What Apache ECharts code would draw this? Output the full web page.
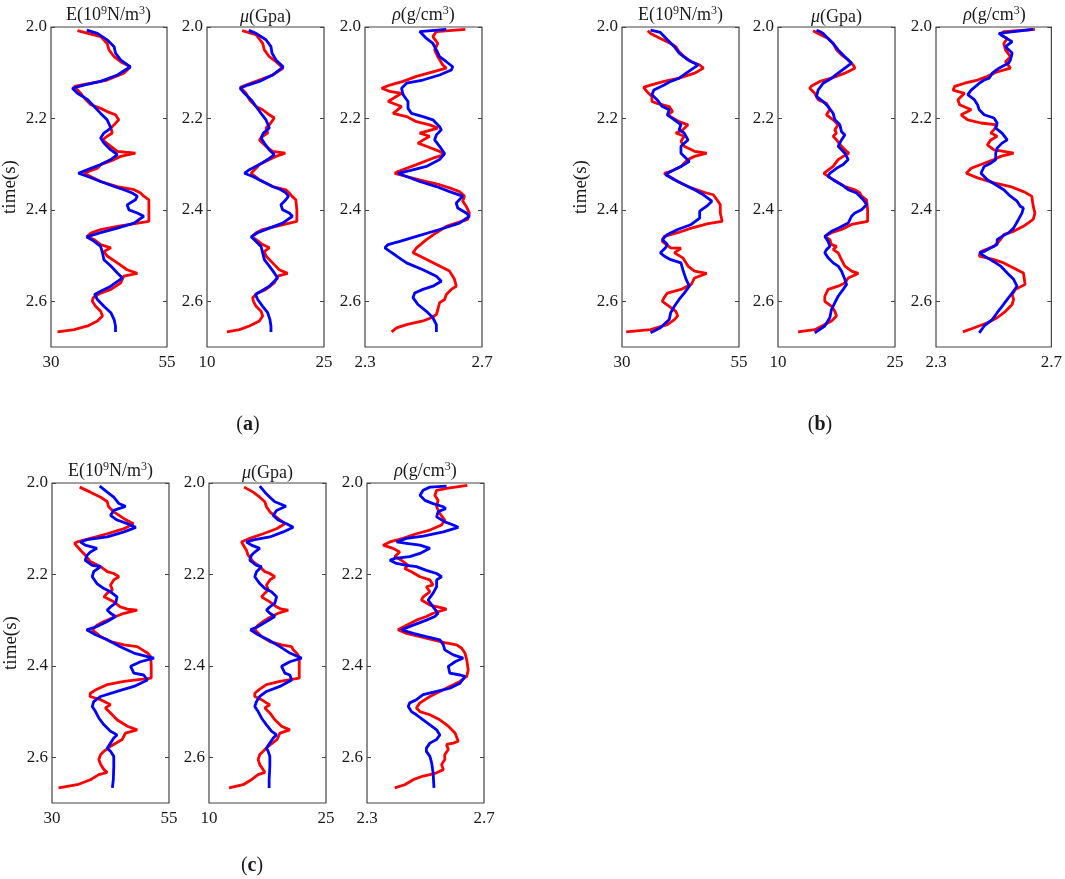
<!DOCTYPE html>
<html>
<head>
<meta charset="utf-8">
<title>E / mu / rho time curves</title>
<script src="https://cdn.jsdelivr.net/npm/echarts@6/dist/echarts.min.js"></script>
<style>
html, body { margin: 0; padding: 0; background: #fff; }
#chart { width: 1065px; height: 879px; }
</style>
</head>
<body>
<div id="chart"></div>
<script>
// 每条曲线: [time(s), value]
var aERed = [[2.008,35.7],[2.021,40.7],[2.036,42.1],[2.050,42.5],[2.065,43.6],[2.076,45.0],[2.087,47.1],[2.090,47.5],[2.101,45.7],[2.116,42.1],[2.123,38.6],[2.130,35.0],[2.132,34.6],[2.145,36.4],[2.159,37.5],[2.170,38.6],[2.178,40.7],[2.185,42.1],[2.192,43.9],[2.203,44.6],[2.214,43.6],[2.221,42.9],[2.232,43.2],[2.239,42.1],[2.247,41.1],[2.261,42.9],[2.272,44.3],[2.274,46.1],[2.276,48.2],[2.283,45.0],[2.290,43.6],[2.301,40.7],[2.309,40.0],[2.320,37.1],[2.338,40.7],[2.349,44.3],[2.356,47.9],[2.363,49.3],[2.370,50.0],[2.378,51.1],[2.400,51.1],[2.425,51.1],[2.436,44.3],[2.443,40.7],[2.451,38.6],[2.459,37.7],[2.465,39.3],[2.476,40.7],[2.483,42.9],[2.491,41.4],[2.501,42.1],[2.516,44.3],[2.531,46.4],[2.539,48.6],[2.545,45.7],[2.560,45.0],[2.574,42.9],[2.582,40.7],[2.592,39.1],[2.600,38.9],[2.611,39.6],[2.622,40.7],[2.632,41.1],[2.643,40.0],[2.654,37.9],[2.662,35.0],[2.667,31.4]];
var aEBlue = [[2.007,37.7],[2.014,40.0],[2.028,42.1],[2.043,43.6],[2.057,43.9],[2.072,45.0],[2.087,47.1],[2.105,44.3],[2.119,40.7],[2.127,37.1],[2.134,34.6],[2.145,35.7],[2.159,37.9],[2.174,39.3],[2.189,40.7],[2.203,42.1],[2.221,42.9],[2.232,41.4],[2.243,40.7],[2.254,41.4],[2.269,42.9],[2.279,44.3],[2.290,42.9],[2.301,40.7],[2.312,37.9],[2.320,35.9],[2.327,37.9],[2.338,40.7],[2.349,43.6],[2.356,45.7],[2.363,47.5],[2.370,48.6],[2.378,48.2],[2.389,46.4],[2.400,46.8],[2.407,48.6],[2.414,50.0],[2.429,47.9],[2.440,44.3],[2.450,40.7],[2.459,37.7],[2.469,39.3],[2.480,40.7],[2.494,41.1],[2.509,41.4],[2.523,42.9],[2.538,44.3],[2.549,45.4],[2.567,42.9],[2.578,40.7],[2.585,39.4],[2.596,40.0],[2.611,41.4],[2.625,42.9],[2.640,43.6],[2.654,43.9],[2.667,43.9]];
var aMuRed = [[2.008,14.50],[2.017,16.29],[2.036,17.14],[2.050,17.35],[2.065,17.99],[2.076,18.84],[2.090,19.77],[2.105,18.41],[2.116,16.71],[2.127,15.01],[2.132,14.25],[2.145,15.01],[2.159,15.44],[2.174,16.29],[2.181,17.14],[2.192,17.99],[2.199,18.63],[2.214,17.99],[2.221,17.56],[2.232,17.78],[2.239,17.14],[2.247,16.71],[2.261,17.56],[2.272,18.41],[2.276,20.03],[2.283,18.84],[2.290,17.99],[2.301,16.71],[2.309,16.29],[2.320,15.65],[2.334,16.71],[2.349,18.41],[2.356,20.11],[2.363,20.54],[2.370,20.88],[2.378,21.39],[2.400,21.52],[2.425,21.52],[2.436,18.84],[2.443,17.14],[2.450,16.29],[2.459,15.78],[2.465,16.29],[2.476,17.14],[2.483,17.99],[2.491,17.35],[2.501,17.56],[2.516,18.41],[2.531,19.26],[2.539,20.33],[2.545,19.05],[2.560,18.63],[2.574,17.56],[2.582,16.50],[2.592,15.86],[2.600,15.95],[2.611,16.29],[2.622,16.93],[2.632,17.14],[2.643,16.71],[2.654,15.44],[2.662,14.16],[2.667,12.55]];
var aMuBlue = [[2.007,15.35],[2.014,16.29],[2.028,17.56],[2.043,18.20],[2.057,18.33],[2.072,18.84],[2.087,19.77],[2.105,18.41],[2.119,16.71],[2.127,15.23],[2.134,14.25],[2.145,14.80],[2.159,15.65],[2.174,16.29],[2.189,16.93],[2.203,17.56],[2.221,17.99],[2.232,17.22],[2.243,16.93],[2.254,17.35],[2.269,17.99],[2.279,18.63],[2.290,17.78],[2.301,16.71],[2.312,15.44],[2.320,14.80],[2.327,15.86],[2.338,17.14],[2.349,18.41],[2.356,19.48],[2.363,20.11],[2.370,20.45],[2.378,20.11],[2.389,19.48],[2.400,19.69],[2.407,20.54],[2.414,20.96],[2.429,19.69],[2.440,17.99],[2.450,16.50],[2.459,15.65],[2.469,16.29],[2.480,16.93],[2.494,17.14],[2.509,17.35],[2.523,17.99],[2.538,18.63],[2.549,19.05],[2.567,17.99],[2.578,16.93],[2.585,16.20],[2.596,16.50],[2.611,17.14],[2.625,17.78],[2.640,18.07],[2.654,18.20],[2.667,18.20]];
var aRhoRed = [[2.005,2.643],[2.010,2.544],[2.021,2.532],[2.036,2.549],[2.050,2.538],[2.065,2.549],[2.083,2.566],[2.090,2.578],[2.098,2.532],[2.108,2.476],[2.119,2.430],[2.127,2.385],[2.134,2.357],[2.141,2.385],[2.145,2.425],[2.163,2.379],[2.174,2.425],[2.189,2.396],[2.196,2.442],[2.207,2.476],[2.214,2.521],[2.221,2.549],[2.225,2.555],[2.232,2.487],[2.239,2.521],[2.254,2.481],[2.261,2.510],[2.272,2.555],[2.279,2.572],[2.287,2.532],[2.301,2.476],[2.316,2.413],[2.320,2.402],[2.327,2.442],[2.338,2.510],[2.345,2.555],[2.352,2.589],[2.360,2.623],[2.370,2.640],[2.381,2.634],[2.392,2.646],[2.407,2.657],[2.421,2.651],[2.429,2.612],[2.436,2.578],[2.450,2.544],[2.465,2.510],[2.483,2.476],[2.494,2.464],[2.501,2.487],[2.512,2.521],[2.523,2.555],[2.534,2.589],[2.552,2.606],[2.567,2.612],[2.574,2.595],[2.585,2.578],[2.596,2.572],[2.603,2.555],[2.618,2.549],[2.629,2.544],[2.636,2.527],[2.643,2.498],[2.651,2.442],[2.658,2.408],[2.667,2.391]];
var aRhoBlue = [[2.005,2.578],[2.010,2.487],[2.025,2.510],[2.036,2.532],[2.050,2.544],[2.065,2.555],[2.076,2.578],[2.087,2.600],[2.094,2.595],[2.105,2.555],[2.116,2.498],[2.123,2.442],[2.134,2.425],[2.148,2.430],[2.163,2.447],[2.178,2.447],[2.189,2.459],[2.196,2.498],[2.203,2.532],[2.218,2.555],[2.225,2.561],[2.236,2.544],[2.247,2.538],[2.261,2.555],[2.277,2.572],[2.290,2.555],[2.305,2.510],[2.314,2.453],[2.320,2.413],[2.327,2.442],[2.338,2.487],[2.349,2.544],[2.360,2.589],[2.370,2.634],[2.385,2.612],[2.396,2.617],[2.407,2.646],[2.414,2.657],[2.429,2.623],[2.443,2.555],[2.458,2.476],[2.469,2.419],[2.476,2.379],[2.483,2.368],[2.491,2.385],[2.501,2.408],[2.516,2.442],[2.531,2.498],[2.545,2.544],[2.556,2.561],[2.567,2.532],[2.574,2.498],[2.582,2.470],[2.592,2.464],[2.607,2.481],[2.622,2.510],[2.636,2.532],[2.651,2.544],[2.667,2.544]];

var bERed = [[2.008,35.5],[2.014,36.1],[2.025,38.2],[2.036,40.4],[2.043,41.5],[2.054,42.2],[2.065,43.3],[2.076,44.8],[2.083,46.6],[2.090,47.4],[2.101,45.5],[2.112,42.2],[2.119,39.0],[2.127,36.1],[2.132,34.6],[2.141,35.3],[2.152,36.4],[2.163,36.4],[2.167,37.5],[2.174,40.1],[2.185,40.8],[2.192,39.7],[2.207,42.2],[2.214,44.1],[2.225,43.0],[2.232,41.5],[2.239,43.3],[2.250,42.6],[2.261,43.3],[2.272,45.5],[2.276,48.1],[2.283,45.5],[2.290,44.1],[2.305,42.6],[2.316,40.4],[2.320,39.0],[2.338,41.9],[2.352,44.8],[2.362,47.7],[2.367,49.5],[2.378,50.3],[2.389,51.0],[2.407,51.0],[2.425,51.4],[2.430,48.4],[2.440,44.8],[2.450,41.9],[2.458,39.0],[2.469,38.6],[2.483,40.4],[2.484,42.6],[2.494,41.2],[2.505,43.0],[2.523,44.1],[2.534,45.5],[2.539,48.1],[2.549,45.5],[2.563,44.8],[2.574,42.6],[2.582,39.7],[2.592,39.0],[2.600,38.6],[2.611,40.1],[2.622,41.5],[2.632,41.9],[2.640,41.2],[2.651,39.7],[2.662,36.1],[2.667,30.9]];
var bEBlue = [[2.007,36.1],[2.012,38.2],[2.015,37.9],[2.028,39.7],[2.043,41.2],[2.057,42.2],[2.072,44.1],[2.083,46.3],[2.098,44.1],[2.112,42.2],[2.119,40.4],[2.127,39.0],[2.138,36.8],[2.148,36.4],[2.159,37.5],[2.174,38.6],[2.181,40.1],[2.192,39.7],[2.203,41.2],[2.214,42.6],[2.225,42.2],[2.232,43.3],[2.247,44.1],[2.261,42.6],[2.276,42.6],[2.294,44.4],[2.305,42.6],[2.316,40.4],[2.323,39.3],[2.334,41.2],[2.345,43.3],[2.356,45.5],[2.367,47.4],[2.381,49.2],[2.392,48.1],[2.403,46.6],[2.418,46.6],[2.432,44.8],[2.443,41.9],[2.454,39.7],[2.465,38.6],[2.476,39.7],[2.483,39.3],[2.494,38.2],[2.501,39.0],[2.509,40.4],[2.516,42.6],[2.531,43.0],[2.552,43.7],[2.567,44.4],[2.582,43.3],[2.596,42.2],[2.611,41.2],[2.625,40.4],[2.640,40.1],[2.658,38.2],[2.669,36.1]];
var bMuRed = [[2.008,14.50],[2.014,15.14],[2.025,16.43],[2.036,17.07],[2.050,17.50],[2.061,18.14],[2.072,19.00],[2.083,19.64],[2.090,19.86],[2.101,18.57],[2.112,16.86],[2.119,15.36],[2.129,14.29],[2.134,14.07],[2.145,14.71],[2.159,15.14],[2.167,16.21],[2.181,16.64],[2.192,16.21],[2.203,17.07],[2.214,17.71],[2.225,17.29],[2.232,17.50],[2.239,17.07],[2.247,17.50],[2.261,18.14],[2.272,18.79],[2.276,19.09],[2.283,18.36],[2.290,17.71],[2.305,17.07],[2.316,16.21],[2.320,15.87],[2.334,17.07],[2.349,18.57],[2.356,19.86],[2.363,20.50],[2.370,20.71],[2.378,21.36],[2.400,21.49],[2.425,21.49],[2.432,19.43],[2.443,18.14],[2.450,16.86],[2.458,16.00],[2.465,16.64],[2.476,16.86],[2.480,17.50],[2.487,17.07],[2.494,17.71],[2.509,18.14],[2.523,18.57],[2.534,19.43],[2.539,20.29],[2.549,19.00],[2.560,18.57],[2.567,17.71],[2.574,16.43],[2.589,16.00],[2.600,16.00],[2.611,16.86],[2.622,17.29],[2.632,17.50],[2.643,16.86],[2.651,16.00],[2.662,14.71],[2.667,12.57]];
var bMuBlue = [[2.007,14.93],[2.010,15.36],[2.014,15.79],[2.025,16.43],[2.036,17.07],[2.050,17.71],[2.065,18.57],[2.079,19.43],[2.090,18.57],[2.101,17.71],[2.112,16.86],[2.123,15.79],[2.138,15.14],[2.152,14.93],[2.163,15.79],[2.174,16.43],[2.189,17.07],[2.203,17.29],[2.214,17.93],[2.229,18.14],[2.236,18.57],[2.247,18.14],[2.261,17.71],[2.276,18.57],[2.290,19.00],[2.301,18.36],[2.309,17.50],[2.320,16.64],[2.327,16.43],[2.334,17.07],[2.345,18.14],[2.356,19.00],[2.363,20.07],[2.378,20.93],[2.389,21.36],[2.400,20.71],[2.407,19.86],[2.414,19.43],[2.429,19.00],[2.440,17.71],[2.447,16.86],[2.458,16.00],[2.469,16.43],[2.480,16.64],[2.487,16.21],[2.494,16.00],[2.505,16.43],[2.516,17.07],[2.523,17.71],[2.534,18.14],[2.552,18.57],[2.563,18.79],[2.574,18.36],[2.589,17.71],[2.603,17.29],[2.618,16.86],[2.636,16.64],[2.654,16.00],[2.669,14.71]];
var bRhoRed = [[2.005,2.643],[2.010,2.535],[2.017,2.524],[2.025,2.547],[2.036,2.535],[2.050,2.541],[2.065,2.558],[2.076,2.541],[2.090,2.558],[2.098,2.512],[2.108,2.478],[2.116,2.444],[2.123,2.399],[2.130,2.365],[2.138,2.359],[2.145,2.399],[2.159,2.376],[2.170,2.382],[2.181,2.422],[2.192,2.387],[2.203,2.410],[2.210,2.456],[2.214,2.512],[2.225,2.501],[2.232,2.490],[2.239,2.512],[2.247,2.490],[2.258,2.478],[2.269,2.501],[2.272,2.535],[2.276,2.569],[2.283,2.524],[2.290,2.501],[2.298,2.467],[2.309,2.422],[2.320,2.405],[2.330,2.444],[2.341,2.501],[2.349,2.558],[2.360,2.603],[2.370,2.632],[2.392,2.637],[2.407,2.643],[2.421,2.637],[2.436,2.603],[2.447,2.569],[2.454,2.535],[2.465,2.524],[2.480,2.501],[2.491,2.456],[2.501,2.450],[2.509,2.501],[2.516,2.535],[2.527,2.569],[2.538,2.603],[2.563,2.609],[2.574,2.575],[2.585,2.564],[2.596,2.569],[2.607,2.564],[2.622,2.541],[2.636,2.512],[2.647,2.478],[2.658,2.433],[2.667,2.393]];
var bRhoBlue = [[2.005,2.637],[2.014,2.518],[2.021,2.535],[2.032,2.564],[2.043,2.541],[2.057,2.564],[2.072,2.558],[2.079,2.552],[2.090,2.518],[2.101,2.495],[2.112,2.484],[2.116,2.467],[2.123,2.450],[2.138,2.422],[2.148,2.410],[2.159,2.433],[2.170,2.444],[2.181,2.450],[2.192,2.467],[2.199,2.501],[2.210,2.512],[2.221,2.507],[2.232,2.529],[2.247,2.547],[2.254,2.529],[2.265,2.512],[2.276,2.507],[2.290,2.507],[2.298,2.490],[2.305,2.467],[2.320,2.456],[2.334,2.478],[2.345,2.507],[2.356,2.535],[2.370,2.558],[2.381,2.581],[2.392,2.592],[2.396,2.603],[2.407,2.598],[2.421,2.586],[2.440,2.569],[2.450,2.552],[2.458,2.529],[2.465,2.512],[2.476,2.512],[2.483,2.490],[2.491,2.467],[2.494,2.450],[2.505,2.478],[2.516,2.507],[2.523,2.524],[2.538,2.547],[2.552,2.569],[2.567,2.581],[2.582,2.564],[2.596,2.547],[2.611,2.529],[2.625,2.512],[2.640,2.495],[2.654,2.467],[2.669,2.450]];

var cERed = [[2.009,35.9],[2.020,38.2],[2.031,40.4],[2.041,41.8],[2.052,42.1],[2.063,43.2],[2.078,45.4],[2.089,47.4],[2.100,45.4],[2.111,41.8],[2.121,38.2],[2.129,35.4],[2.132,34.8],[2.147,36.1],[2.158,37.1],[2.172,38.2],[2.183,40.4],[2.194,41.8],[2.198,43.2],[2.205,44.3],[2.212,43.2],[2.223,42.5],[2.234,42.9],[2.241,41.8],[2.249,41.1],[2.260,43.2],[2.271,44.6],[2.276,46.1],[2.278,48.2],[2.285,45.4],[2.292,43.6],[2.303,41.1],[2.311,39.6],[2.321,38.6],[2.336,40.4],[2.347,42.5],[2.354,45.4],[2.358,48.2],[2.365,49.3],[2.372,50.4],[2.380,51.1],[2.401,51.2],[2.427,51.2],[2.434,45.4],[2.441,41.8],[2.451,39.6],[2.460,38.2],[2.467,38.1],[2.474,40.4],[2.481,41.8],[2.485,42.5],[2.492,41.4],[2.503,42.5],[2.518,43.9],[2.532,46.1],[2.540,48.2],[2.547,45.7],[2.561,45.0],[2.576,42.5],[2.587,41.1],[2.594,40.4],[2.605,40.0],[2.616,40.4],[2.627,41.1],[2.633,41.8],[2.638,40.0],[2.649,38.2],[2.660,35.4],[2.667,31.4]];
var cEBlue = [[2.007,40.2],[2.020,41.8],[2.031,43.2],[2.045,44.3],[2.051,45.7],[2.060,43.2],[2.071,42.5],[2.081,43.9],[2.089,46.1],[2.097,47.9],[2.107,45.4],[2.118,41.8],[2.124,37.5],[2.129,36.1],[2.136,37.1],[2.143,39.6],[2.151,38.2],[2.158,37.5],[2.169,37.1],[2.180,38.6],[2.183,40.4],[2.194,38.9],[2.205,38.6],[2.220,39.6],[2.231,41.1],[2.238,42.5],[2.249,43.9],[2.263,43.6],[2.271,42.5],[2.278,41.8],[2.285,42.5],[2.292,43.6],[2.303,41.8],[2.314,39.6],[2.321,37.4],[2.332,39.3],[2.343,41.8],[2.358,44.6],[2.372,47.5],[2.380,50.4],[2.383,51.8],[2.391,48.9],[2.401,46.8],[2.416,47.5],[2.420,49.6],[2.431,50.4],[2.445,47.5],[2.456,43.9],[2.467,40.4],[2.478,38.9],[2.489,38.6],[2.500,39.3],[2.514,40.0],[2.529,41.1],[2.543,42.5],[2.551,43.9],[2.558,43.2],[2.569,42.5],[2.580,41.8],[2.587,42.5],[2.598,43.2],[2.620,43.2],[2.649,43.1],[2.667,42.9]];
var cMuRed = [[2.009,14.50],[2.020,15.66],[2.031,16.51],[2.041,17.16],[2.052,17.37],[2.063,17.80],[2.078,18.87],[2.089,19.73],[2.100,18.66],[2.111,16.94],[2.121,15.23],[2.129,14.16],[2.132,14.03],[2.147,14.80],[2.158,15.01],[2.172,15.66],[2.183,16.51],[2.194,17.16],[2.198,17.80],[2.205,18.44],[2.212,17.80],[2.223,17.37],[2.234,17.59],[2.241,17.16],[2.249,16.73],[2.260,17.80],[2.271,18.66],[2.276,19.30],[2.278,20.16],[2.285,18.87],[2.292,18.01],[2.303,16.94],[2.311,16.30],[2.321,15.87],[2.336,16.73],[2.347,17.80],[2.354,19.30],[2.358,20.59],[2.365,20.80],[2.372,21.23],[2.380,21.57],[2.401,21.57],[2.427,21.57],[2.434,19.09],[2.441,17.37],[2.451,16.51],[2.460,15.87],[2.467,15.87],[2.474,16.73],[2.481,17.37],[2.485,17.80],[2.492,17.16],[2.503,17.80],[2.518,18.44],[2.532,19.30],[2.540,20.37],[2.547,19.09],[2.561,18.74],[2.576,17.59],[2.587,16.94],[2.594,16.51],[2.605,16.30],[2.616,16.51],[2.627,16.94],[2.633,17.16],[2.638,16.30],[2.649,15.44],[2.660,14.37],[2.667,12.57]];
var cMuBlue = [[2.007,16.51],[2.020,17.16],[2.031,17.80],[2.041,18.44],[2.051,19.86],[2.060,18.66],[2.071,18.23],[2.081,18.87],[2.089,19.94],[2.097,20.80],[2.107,19.51],[2.118,17.80],[2.124,15.87],[2.129,14.80],[2.136,15.44],[2.143,16.51],[2.151,15.87],[2.158,15.44],[2.169,15.23],[2.180,16.09],[2.183,16.73],[2.194,16.09],[2.205,15.87],[2.220,16.51],[2.231,17.16],[2.238,18.01],[2.249,18.66],[2.263,18.44],[2.271,17.80],[2.278,17.37],[2.285,17.80],[2.292,18.44],[2.303,17.37],[2.314,16.30],[2.321,15.31],[2.332,16.30],[2.343,17.59],[2.358,19.09],[2.372,20.37],[2.380,21.44],[2.383,21.87],[2.391,20.37],[2.401,19.30],[2.416,19.73],[2.420,20.37],[2.431,20.59],[2.445,19.09],[2.456,17.37],[2.467,16.51],[2.478,16.09],[2.489,15.87],[2.500,16.30],[2.514,16.73],[2.529,17.37],[2.543,18.01],[2.551,18.66],[2.558,18.23],[2.569,17.80],[2.580,17.37],[2.587,17.59],[2.598,17.80],[2.620,17.80],[2.649,17.71],[2.667,17.71]];
var cRhoRed = [[2.005,2.643],[2.012,2.572],[2.016,2.538],[2.027,2.532],[2.038,2.543],[2.052,2.538],[2.067,2.549],[2.081,2.566],[2.092,2.555],[2.103,2.515],[2.111,2.469],[2.121,2.423],[2.129,2.378],[2.136,2.355],[2.143,2.389],[2.151,2.412],[2.161,2.395],[2.169,2.418],[2.180,2.441],[2.187,2.429],[2.194,2.452],[2.205,2.481],[2.212,2.515],[2.223,2.526],[2.227,2.503],[2.238,2.515],[2.249,2.492],[2.256,2.486],[2.267,2.515],[2.272,2.549],[2.276,2.572],[2.285,2.526],[2.292,2.503],[2.300,2.469],[2.311,2.435],[2.321,2.406],[2.329,2.435],[2.336,2.481],[2.343,2.526],[2.349,2.566],[2.354,2.606],[2.361,2.623],[2.372,2.635],[2.387,2.641],[2.409,2.646],[2.423,2.641],[2.434,2.618],[2.445,2.583],[2.456,2.549],[2.467,2.515],[2.481,2.481],[2.492,2.469],[2.500,2.481],[2.507,2.515],[2.518,2.549],[2.532,2.578],[2.547,2.601],[2.565,2.612],[2.569,2.595],[2.572,2.572],[2.583,2.578],[2.594,2.566],[2.605,2.566],[2.616,2.555],[2.627,2.561],[2.634,2.538],[2.638,2.515],[2.641,2.492],[2.649,2.458],[2.660,2.429],[2.667,2.395]];
var cRhoBlue = [[2.007,2.572],[2.009,2.515],[2.016,2.492],[2.027,2.481],[2.038,2.498],[2.045,2.526],[2.052,2.561],[2.056,2.569],[2.063,2.543],[2.074,2.538],[2.085,2.566],[2.092,2.595],[2.097,2.612],[2.107,2.561],[2.116,2.492],[2.121,2.435],[2.129,2.401],[2.132,2.435],[2.136,2.481],[2.143,2.515],[2.154,2.481],[2.161,2.446],[2.165,2.395],[2.169,2.378],[2.176,2.401],[2.180,2.435],[2.183,2.469],[2.191,2.503],[2.198,2.538],[2.205,2.555],[2.212,2.538],[2.227,2.538],[2.241,2.526],[2.256,2.509],[2.271,2.526],[2.285,2.543],[2.292,2.532],[2.300,2.503],[2.311,2.458],[2.321,2.418],[2.329,2.458],[2.336,2.503],[2.343,2.549],[2.354,2.561],[2.365,2.566],[2.376,2.595],[2.383,2.629],[2.391,2.601],[2.401,2.578],[2.416,2.583],[2.420,2.618],[2.423,2.635],[2.438,2.618],[2.449,2.583],[2.456,2.538],[2.463,2.492],[2.474,2.469],[2.481,2.446],[2.489,2.441],[2.500,2.452],[2.507,2.469],[2.518,2.492],[2.529,2.515],[2.540,2.538],[2.551,2.549],[2.561,2.538],[2.569,2.515],[2.580,2.503],[2.587,2.503],[2.598,2.515],[2.612,2.521],[2.634,2.526],[2.667,2.529]];

// 坐标轴范围与刻度
var timeRange = [2.0, 2.7];
var timeTicks = [2.0, 2.2, 2.4, 2.6];
var eRange = [30, 55];
var muRange = [10, 25];
var rhoRange = [2.3, 2.7];

// 每组三个子图: E, mu, rho
var groups = [
    {tag: 'a', lefts: [50, 207, 365], top: 27, tagPos: [248, 425], curves: [[aERed, aEBlue], [aMuRed, aMuBlue], [aRhoRed, aRhoBlue]]},
    {tag: 'b', lefts: [622, 778, 936], top: 27, tagPos: [820, 425], curves: [[bERed, bEBlue], [bMuRed, bMuBlue], [bRhoRed, bRhoBlue]]},
    {tag: 'c', lefts: [52, 209, 367], top: 483, tagPos: [252, 866], curves: [[cERed, cEBlue], [cMuRed, cMuBlue], [cRhoRed, cRhoBlue]]}
];
var panelW = 117, panelH = 320;
var FONT = '"Liberation Serif", "Times New Roman", serif';
var ranges = [eRange, muRange, rhoRange];
var titles = ['E(10{s|9}N/m{s|3})', '{i|\u03bc}(Gpa)', '{i|\u03c1}(g/cm{s|3})'];

var grid = [], xAxis = [], yAxis = [], series = [], graphic = [];

groups.forEach(function (g) {
    for (var k = 0; k < 3; k++) {
        var gi = grid.length;
        var r = ranges[k];
        grid.push({
            left: g.lefts[k], top: g.top, width: panelW, height: panelH,
            show: true, borderColor: '#444', borderWidth: 1.2, backgroundColor: 'transparent'
        });
        xAxis.push({
            gridIndex: gi, type: 'value', min: r[0], max: r[1],
            axisLine: {show: false}, axisTick: {show: false}, splitLine: {show: false},
            axisLabel: {
                customValues: [r[0], r[1]], margin: 7,
                fontFamily: FONT, fontSize: 17, color: '#1a1a1a',
                formatter: function (v) { return v < 5 ? v.toFixed(1) : String(Math.round(v)); }
            }
        });
        //左轴
        yAxis.push({
            gridIndex: gi, type: 'value', inverse: true, position: 'left',
            min: timeRange[0], max: timeRange[1],
            name: k === 0 ? 'time(s)' : '', nameLocation: 'middle', nameGap: 31,
            nameTextStyle: {fontFamily: FONT, fontSize: 19, color: '#1a1a1a'},
            axisLine: {show: false}, splitLine: {show: false},
            axisTick: {inside: true, length: 4, customValues: timeTicks, lineStyle: {color: '#444'}},
            axisLabel: {
                customValues: timeTicks, margin: 4,
                fontFamily: FONT, fontSize: 17, color: '#1a1a1a',
                formatter: function (v) { return v.toFixed(1); }
            }
        });
        //右轴, 只画刻度
        yAxis.push({
            gridIndex: gi, type: 'value', inverse: true, position: 'right',
            min: timeRange[0], max: timeRange[1],
            axisLine: {show: false}, splitLine: {show: false},
            axisTick: {inside: true, length: 4, customValues: timeTicks, lineStyle: {color: '#444'}},
            axisLabel: {show: false}
        });
        var pair = g.curves[k];
        [['#ff0000', pair[0]], ['#0000ff', pair[1]]].forEach(function (c) {
            series.push({
                type: 'line', xAxisIndex: gi, yAxisIndex: gi * 2,
                data: c[1].map(function (p) { return [p[1], p[0]]; }),
                symbol: 'none', clip: true,
                lineStyle: {color: c[0], width: 2.8},
                itemStyle: {color: c[0]}
            });
        });
        graphic.push({
            type: 'text', x: g.lefts[k] + panelW / 2, y: g.top - 1,
            style: {
                text: titles[k], align: 'center', verticalAlign: 'bottom',
                fontFamily: FONT, fontSize: 18, fill: '#1a1a1a',
                rich: {
                    s: {fontFamily: FONT, fontSize: 12, padding: [0, 0, 9, 0], fill: '#1a1a1a'},
                    i: {fontFamily: FONT, fontSize: 18, fontStyle: 'italic', fill: '#1a1a1a'}
                }
            }
        });
    }
    graphic.push({
        type: 'text', x: g.tagPos[0], y: g.tagPos[1],
        style: {
            text: '({b|' + g.tag + '})', align: 'center', verticalAlign: 'middle',
            fontFamily: FONT, fontSize: 20, fill: '#1a1a1a',
            rich: {b: {fontFamily: FONT, fontSize: 20, fontWeight: 'bold', fill: '#1a1a1a'}}
        }
    });
});

var chart = echarts.init(document.getElementById('chart'));
chart.setOption({
    animation: false,
    backgroundColor: '#fff',
    grid: grid,
    xAxis: xAxis,
    yAxis: yAxis,
    series: series,
    graphic: graphic
});
</script>
</body>
</html>
